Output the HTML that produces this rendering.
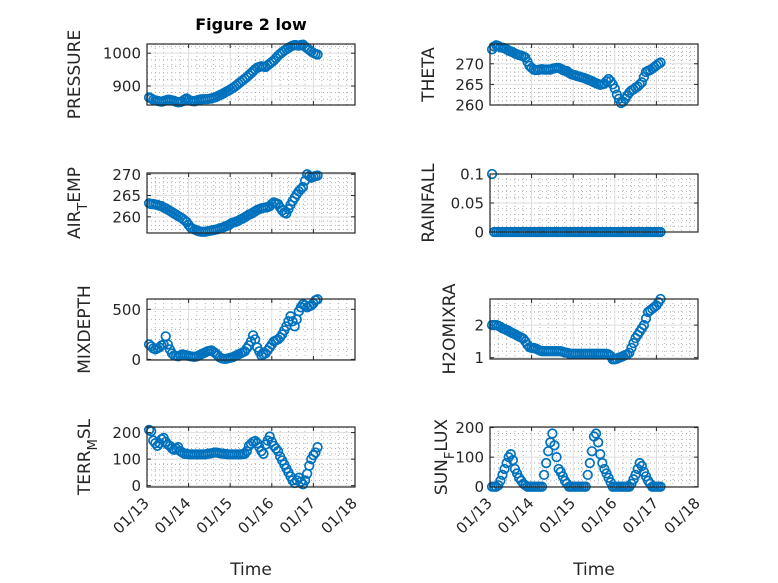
<!DOCTYPE html>
<html><head><meta charset="utf-8"><style>
html,body{margin:0;padding:0;background:#fff;}
svg{display:block;font-family:"DejaVu Sans","Liberation Sans",sans-serif;}
</style></head><body>
<svg id="fig" width="778" height="583" viewBox="0 0 778 583">
<text x="251" y="30" text-anchor="middle" font-weight="bold" font-size="16" fill="#000">Figure 2 low</text>
<text x="251" y="575" text-anchor="middle" font-size="17" fill="#262626">Time</text>
<text x="594" y="575" text-anchor="middle" font-size="17" fill="#262626">Time</text>
</svg>
<script>
const times = [0.05,0.10,0.15,0.20,0.25,0.30,0.35,0.40,0.45,0.50,0.55,0.60,0.65,0.70,0.75,0.80,0.85,0.90,0.95,1.00,1.05,1.10,1.15,1.20,1.25,1.30,1.35,1.40,1.45,1.50,1.55,1.60,1.65,1.70,1.75,1.80,1.85,1.90,1.95,2.00,2.05,2.10,2.15,2.20,2.25,2.30,2.35,2.40,2.45,2.50,2.55,2.60,2.65,2.70,2.75,2.80,2.85,2.90,2.95,3.00,3.05,3.10,3.15,3.20,3.25,3.30,3.35,3.40,3.45,3.50,3.55,3.60,3.65,3.70,3.75,3.80,3.85,3.90,3.95,4.00,4.05,4.10];
const xTickLabels = ["01/13","01/14","01/15","01/16","01/17","01/18"];
const pressure = [865,862,858,856,855,853,852,854,856,858,858,856,855,852,850,851,853,858,862,858,855,854,853,856,858,859,860,860,860,861,862,864,866,869,872,875,878,882,885,889,893,897,902,907,912,917,922,927,933,939,945,951,956,958,960,959,958,963,968,973,978,985,992,998,1003,1008,1012,1016,1020,1023,1025,1024,1023,1025,1026,1020,1015,1010,1005,1001,998,996];
const theta = [273.5,274.2,274.5,274.3,274,273.9,273.8,273.5,273.2,273,272.8,272.5,272.3,272.1,272,271.8,271.5,270.5,269.5,269,268.6,268.5,268.5,268.6,268.7,268.6,268.6,268.6,268.6,268.8,268.9,269,269,268.8,268.5,268.3,268.2,267.8,267.5,267.3,267.2,267,266.9,266.7,266.6,266.4,266.2,266,265.8,265.5,265.3,265.1,264.9,265,265.2,265.8,266.3,265.8,265,264,262.5,261.5,260.5,260.8,261.5,262.3,263,263.5,263.8,264.2,264.5,265,265.5,266.8,268,268.3,268.5,268.8,269.2,269.6,270,270.3];
const airTemp = [263.2,263,263,262.9,262.8,262.6,262.5,262.2,262,261.7,261.4,261.1,260.8,260.5,260.2,259.9,259.6,259.2,258.8,258.1,257.5,257.2,257,256.8,256.6,256.5,256.5,256.5,256.6,256.7,256.8,256.9,257,257.1,257.3,257.4,257.6,257.8,258,258.3,258.6,258.7,258.9,259.1,259.4,259.6,259.9,260.2,260.5,260.7,261,261.3,261.6,261.8,262,262.1,262.2,262.3,262.5,263,263.4,263.2,263,262.2,261.5,261,260.8,261.8,262.8,263.7,264.5,265.3,266,266.5,267,268.5,270,269.6,269.2,269.4,269.6,269.7];
const rainfall = [0.1,0,0,0,0,0,0,0,0,0,0,0,0,0,0,0,0,0,0,0,0,0,0,0,0,0,0,0,0,0,0,0,0,0,0,0,0,0,0,0,0,0,0,0,0,0,0,0,0,0,0,0,0,0,0,0,0,0,0,0,0,0,0,0,0,0,0,0,0,0,0,0,0,0,0,0,0,0,0,0,0,0];
const mixDepth = [150,130,110,100,110,120,140,150,230,150,100,60,40,35,30,40,50,45,40,35,30,28,25,30,40,50,60,70,80,85,90,75,60,40,20,10,5,5,10,15,20,30,40,50,60,70,80,110,140,180,240,200,120,80,40,50,60,90,120,150,180,190,200,220,250,290,330,380,430,380,330,400,480,520,550,540,520,530,540,560,590,600];
const h2oMix = [2.0,2.0,2.0,1.98,1.95,1.9,1.88,1.85,1.82,1.78,1.75,1.72,1.68,1.65,1.62,1.58,1.5,1.4,1.32,1.3,1.3,1.28,1.25,1.22,1.2,1.2,1.2,1.2,1.2,1.2,1.2,1.2,1.2,1.2,1.18,1.16,1.15,1.13,1.12,1.12,1.12,1.12,1.12,1.12,1.12,1.12,1.12,1.12,1.12,1.12,1.12,1.12,1.12,1.12,1.12,1.12,1.1,1.05,0.95,0.95,0.97,1.0,1.02,1.05,1.08,1.1,1.15,1.3,1.45,1.6,1.7,1.8,1.9,2.0,2.2,2.4,2.45,2.5,2.55,2.6,2.7,2.8];
const terrMsl = [210,205,170,160,150,160,175,180,165,155,150,140,135,140,145,130,125,120,120,118,118,118,118,118,118,118,118,118,120,121,122,124,125,124,122,121,120,119,118,118,118,118,118,118,118,119,120,130,150,158,165,168,160,145,130,120,155,170,185,165,150,140,130,110,95,80,65,50,35,20,10,20,30,15,5,20,45,75,100,115,125,145];
const sunFlux = [0,0,0,5,20,40,60,80,100,110,90,60,45,30,20,10,5,0,0,0,0,0,0,0,0,40,80,120,150,180,140,100,60,50,35,20,10,0,0,0,0,0,0,0,0,0,40,80,120,170,180,150,110,80,60,45,30,15,0,0,0,0,0,0,0,0,0,10,25,40,60,80,70,50,35,20,10,0,0,0,0,0];
const pressureTicks = [900,1000];
const thetaTicks = [260,265,270];
const airTicks = [260,265,270];
const rainTicks = [0,0.05,0.1];
const rainTickLabels = ["0","0.05","0.1"];
const mixTicks = [0,500];
const h2oTicks = [1,2];
const terrTicks = [0,100,200];
const sunTicks = [0,100,200];

const NS = "http://www.w3.org/2000/svg";
const svg = document.getElementById("fig");
function el(tag, attrs, parent){const e=document.createElementNS(NS,tag);for(const k in attrs)e.setAttribute(k,attrs[k]);(parent||svg).appendChild(e);return e;}

const panels = [
 {name:"pressure",x0:147,x1:355,y0:44,y1:105,ymin:842,ymax:1028,minor:20,ticks:pressureTicks,data:pressure,label:["PRESSURE"],lx:80,bottom:false},
 {name:"theta",x0:490,x1:698,y0:44,y1:105,ymin:260,ymax:274.8,minor:1,ticks:thetaTicks,data:theta,label:["THETA"],lx:434,bottom:false},
 {name:"air-temp",x0:147,x1:355,y0:173,y1:233,ymin:256.2,ymax:270.3,minor:1,ticks:airTicks,data:airTemp,label:["AIR","T","EMP"],lx:80,bottom:false},
 {name:"rainfall",x0:490,x1:698,y0:174,y1:232,ymin:0,ymax:0.1,minor:0.01,ticks:rainTicks,tickLabels:rainTickLabels,data:rainfall,label:["RAINFALL"],lx:434,bottom:false},
 {name:"mix-depth",x0:147,x1:355,y0:299,y1:360,ymin:-6,ymax:603,minor:100,ticks:mixTicks,data:mixDepth,label:["MIXDEPTH"],lx:90,bottom:false},
 {name:"h2o-mix",x0:490,x1:698,y0:299,y1:359,ymin:0.96,ymax:2.8,minor:0.2,ticks:h2oTicks,data:h2oMix,label:["H2OMIXRA"],lx:455,bottom:false},
 {name:"terr-msl",x0:147,x1:355,y0:427,y1:487,ymin:-5,ymax:221,minor:20,ticks:terrTicks,data:terrMsl,label:["TERR","M","SL"],lx:90,bottom:true},
 {name:"sun-flux",x0:490,x1:698,y0:427,y1:487,ymin:-1,ymax:202,minor:20,ticks:sunTicks,data:sunFlux,label:["SUN","F","LUX"],lx:447,bottom:true}
];

panels.forEach(p=>{
 const g = el("g",{});
 
 
 const xs = d => p.x0 + (d-0)/(5-0)*(p.x1-p.x0);
 const ys = v => p.y1 - (v-p.ymin)/(p.ymax-p.ymin)*(p.y1-p.y0);
 for(let d=0; d<=5.0001; d+=0.2){
   if(Math.abs(d-Math.round(d))<1e-6) continue;
   const x=xs(d);
   el("line",{x1:x,x2:x,y1:p.y0,y2:p.y1,stroke:"#b0b0b0","stroke-width":1,"stroke-dasharray":"1,3"},g);
 }
 const first = Math.ceil(p.ymin/p.minor)*p.minor;
 for(let v=first; v<=p.ymax+1e-9; v+=p.minor){
   if(p.ticks.some(t=>Math.abs(t-v)<p.minor*1e-3)) continue;
   const y=ys(v);
   el("line",{x1:p.x0,x2:p.x1,y1:y,y2:y,stroke:"#b0b0b0","stroke-width":1,"stroke-dasharray":"1,3"},g);
 }
 for(let d=1; d<5; d++){const x=xs(d);el("line",{x1:x,x2:x,y1:p.y0,y2:p.y1,stroke:"#dedede","stroke-width":1},g);}
 p.ticks.forEach((t,i)=>{
   const y=ys(t);
   el("line",{x1:p.x0,x2:p.x1,y1:y,y2:y,stroke:"#dedede","stroke-width":1},g);
   el("line",{x1:p.x0,x2:p.x0+4,y1:y,y2:y,stroke:"#262626","stroke-width":1},g);
   el("line",{x1:p.x1,x2:p.x1-4,y1:y,y2:y,stroke:"#262626","stroke-width":1},g);
   const tl = el("text",{x:p.x0-6,y:y+5.5,"text-anchor":"end","font-size":15,fill:"#262626"},g);
   tl.textContent = p.tickLabels ? p.tickLabels[i] : String(t);
   
   
 });
 xTickLabels.forEach((lab,i)=>{
   const x=xs(i);
   el("line",{x1:x,x2:x,y1:p.y1,y2:p.y1-4,stroke:"#262626","stroke-width":1},g);
   el("line",{x1:x,x2:x,y1:p.y0,y2:p.y0+4,stroke:"#262626","stroke-width":1},g);
   if(p.bottom){
     const tx=x+3, ty=p.y1+17;
     const t = el("text",{x:tx,y:ty,"text-anchor":"end","font-size":15,fill:"#262626",transform:`rotate(-45 ${tx} ${ty})`},g);
     t.textContent = lab;
     
     
   }
 });
 const n = Math.min(p.data.length, times.length);
 for(let i=0;i<n;i++){
   const c = el("circle",{cx:xs(times[i]),cy:ys(p.data[i]),r:4.3,fill:"none",stroke:"#0072BD","stroke-width":1.7},g);
   
   
 }
 el("rect",{x:p.x0,y:p.y0,width:p.x1-p.x0,height:p.y1-p.y0,fill:"none",stroke:"#262626","stroke-width":1.2},g);
 const cy=(p.y0+p.y1)/2;
 const lab = el("text",{x:p.lx,y:cy,"text-anchor":"middle","font-size":17,fill:"#262626",transform:`rotate(-90 ${p.lx} ${cy})`},g);
 
 
 if(p.label.length===1){lab.textContent=p.label[0];}
 else{
   const a=el("tspan",{},lab);a.textContent=p.label[0];
   const b=el("tspan",{dy:7,"font-size":13},lab);b.textContent=p.label[1];
   const c=el("tspan",{dy:-7},lab);c.textContent=p.label[2];
 }
});
</script>
</body></html>
